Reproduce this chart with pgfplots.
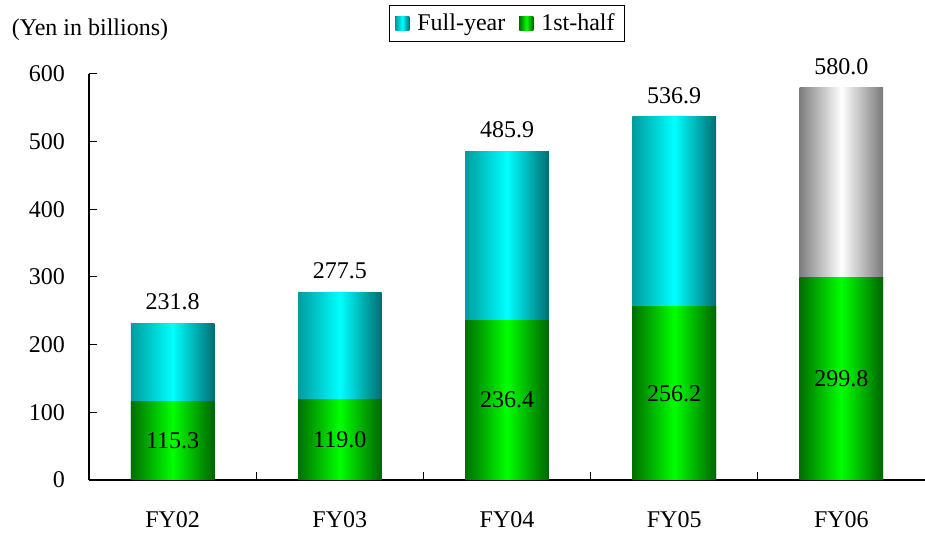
\documentclass[border=0pt]{standalone}
\usepackage{fontspec}
\setmainfont{Liberation Serif}
\usepackage{pgfplots}
\pgfplotsset{compat=1.18}

\definecolor{cyL}{HTML}{009BA0}
\definecolor{cyM}{HTML}{00FFFF}
\definecolor{cyR}{HTML}{006E72}
\definecolor{grL}{HTML}{007000}
\definecolor{grM}{HTML}{00FF00}
\definecolor{grR}{HTML}{006400}
\definecolor{gyL}{HTML}{7E7E7E}
\definecolor{gyM}{HTML}{FFFFFF}
\definecolor{gyR}{HTML}{787878}

% each bar is its own plot so that every bar gets its own shading
\pgfplotsset{
    fullbar/.style={left color=cyL, right color=cyR, middle color=cyM,
        every node near coord/.append style={anchor=south, yshift=3pt}},
    grayfull/.style={left color=gyL, right color=gyR, middle color=gyM,
        every node near coord/.append style={anchor=south, yshift=3pt}},
    halfbar/.style={left color=grL, right color=grR, middle color=grM,
        visualization depends on={rawy \as \rawy},
        every node near coord/.append style={anchor=center, yshift={-0.169167pt*\rawy}}},
}

\begin{document}
\begin{tikzpicture}[font=\fontsize{12}{14}\selectfont]
\path[use as bounding box] (-44.5pt,-26.5pt) rectangle (418pt,240pt);
\begin{axis}[
    name=ax,
    scale only axis,
    width=418pt, height=203pt,
    xmin=-0.5, xmax=4.5,
    ymin=0, ymax=600,
    axis x line*=bottom, axis y line*=left,
    axis line style={black, line width=0.7pt, -},
    tick align=inside,
    major tick length=4pt,
    tick style={black, line width=0.5pt},
    xtick={0.5,1.5,2.5,3.5}, xticklabels={},
    extra x ticks={0,1,2,3,4},
    extra x tick labels={FY02,FY03,FY04,FY05,FY06},
    extra x tick style={major tick length=0pt},
    xticklabel style={yshift=-12pt},
    ytick={0,100,...,600},
    yticklabel style={xshift=-8.5pt},
    /pgf/number format/assume math mode=true,
    /pgf/number format/1000 sep={},
    every axis plot/.append style={ybar, bar width=0.5, bar shift=0pt, draw=none},
    nodes near coords={\pgfmathprintnumber[fixed, precision=1, zerofill]{\pgfplotspointmeta}},
    every node near coord/.append style={black},
    legend style={at={(0.5,1)}, anchor=north, yshift=34.5pt,
        legend columns=2, draw=black, line width=0.5pt,
        /tikz/every even column/.append style={column sep=5pt}},
    legend image code/.code={\fill[#1] (0pt,-3.5pt) rectangle (7pt,3.5pt);},
    legend cell align=left,
]
% full-year
\addplot[fullbar] coordinates {(0,231.8)};
\addlegendentry{\hspace{2pt}Full-year}
\addplot[fullbar, forget plot] coordinates {(1,277.5)};
\addplot[fullbar, forget plot] coordinates {(2,485.9)};
\addplot[fullbar, forget plot] coordinates {(3,536.9)};
\addplot[grayfull, forget plot] coordinates {(4,580.0)};
% 1st-half
\addplot[halfbar] coordinates {(0,115.3)};
\addlegendentry{\hspace{2pt}1st-half}
\addplot[halfbar, forget plot] coordinates {(1,119.0)};
\addplot[halfbar, forget plot] coordinates {(2,236.4)};
\addplot[halfbar, forget plot] coordinates {(3,256.2)};
\addplot[halfbar, forget plot] coordinates {(4,299.8)};
\end{axis}
\node[xshift=0.5pt, yshift=22pt] at (ax.north west) {(Yen in billions)};
\end{tikzpicture}
\end{document}
